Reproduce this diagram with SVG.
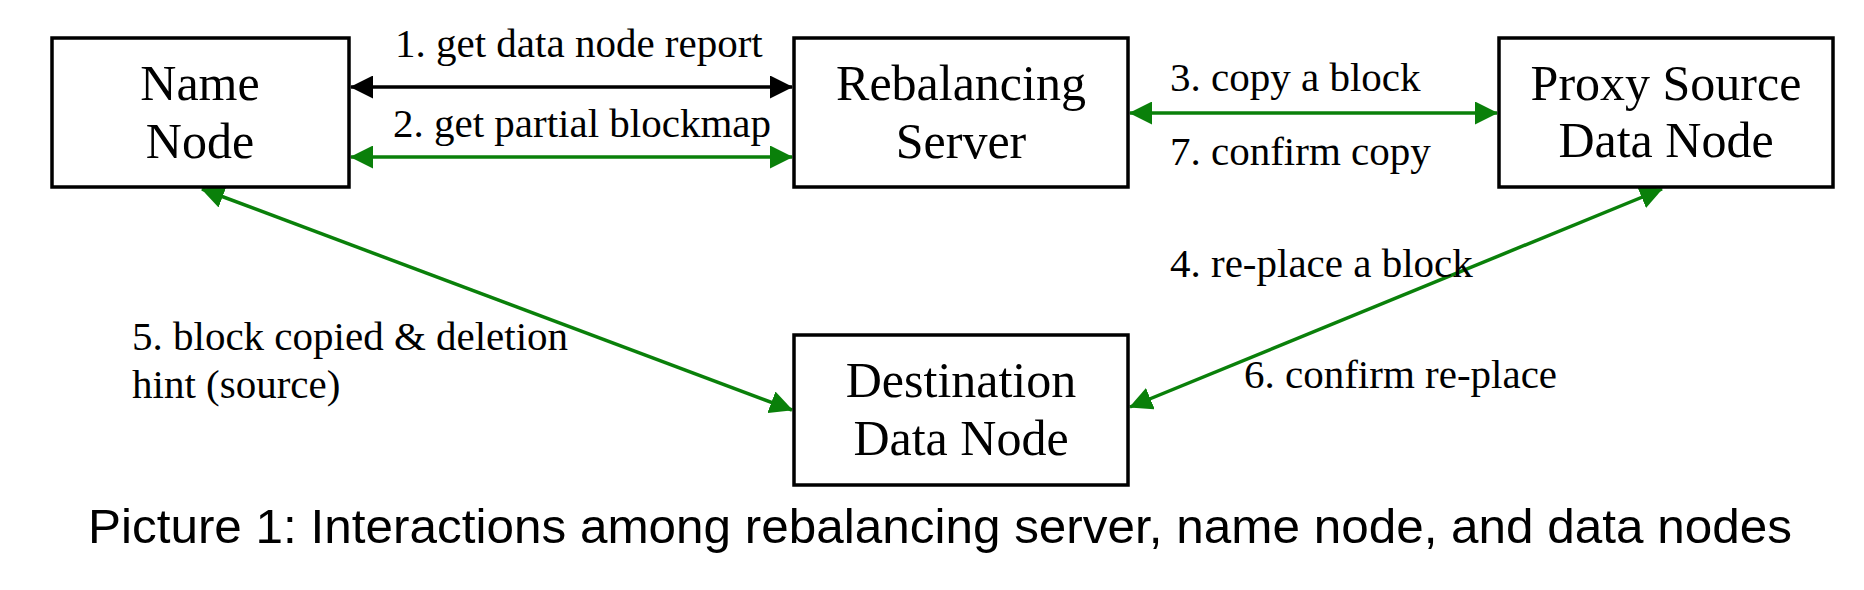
<svg xmlns="http://www.w3.org/2000/svg" width="1864" height="590" viewBox="0 0 1864 590">
<style>
.box{fill:#fff;stroke:#000;stroke-width:3.5}
.nt{font-family:"Liberation Serif","Times New Roman",serif;font-size:50px;fill:#000;text-anchor:middle}
.et{font-family:"Liberation Serif","Times New Roman",serif;font-size:41px;fill:#000}
.cap{font-family:"Liberation Sans",Arial,sans-serif;font-size:49px;fill:#000}
.blk{stroke:#000;stroke-width:3.5;fill:none}
.grn{stroke:#0a800a;stroke-width:3.5;fill:none}
</style>
<defs>
<marker id="ab" viewBox="0 0 23 23" refX="22" refY="11.5" markerWidth="23" markerHeight="23" markerUnits="userSpaceOnUse" orient="auto-start-reverse"><path d="M0,0 L23,11.5 L0,23 z" fill="#000"/></marker>
<marker id="ag" viewBox="0 0 23 23" refX="22" refY="11.5" markerWidth="23" markerHeight="23" markerUnits="userSpaceOnUse" orient="auto-start-reverse"><path d="M0,0 L23,11.5 L0,23 z" fill="#0a800a"/></marker>
</defs>
<rect width="1864" height="590" fill="#fff"/>
<g id="connectors">
<line class="blk" x1="351" y1="87" x2="792" y2="87" marker-start="url(#ab)" marker-end="url(#ab)"/>
<line class="grn" x1="351" y1="157" x2="792" y2="157" marker-start="url(#ag)" marker-end="url(#ag)"/>
<line class="grn" x1="1130" y1="113" x2="1497" y2="113" marker-start="url(#ag)" marker-end="url(#ag)"/>
<line class="grn" x1="1130" y1="407" x2="1662" y2="189" marker-start="url(#ag)" marker-end="url(#ag)"/>
<line class="grn" x1="202" y1="189" x2="792" y2="410" marker-start="url(#ag)" marker-end="url(#ag)"/>
<text class="et" x="395" y="57">1. get data node report</text>
<text class="et" x="393" y="137">2. get partial blockmap</text>
<text class="et" x="1170" y="91">3. copy a block</text>
<text class="et" x="1170" y="165">7. confirm copy</text>
<text class="et" x="1170" y="277">4. re-place a block</text>
<text class="et" x="1244" y="388">6. confirm re-place</text>
<text class="et" x="132" y="350">5. block copied &amp; deletion</text>
<text class="et" x="132" y="398">hint (source)</text>
</g>
<g id="name-node">
<rect class="box" x="52" y="38" width="297" height="149"/>
<text class="nt" x="200" y="100">Name</text>
<text class="nt" x="200" y="158">Node</text>
</g>
<g id="rebalancing-server">
<rect class="box" x="794" y="38" width="334" height="149"/>
<text class="nt" x="961" y="100">Rebalancing</text>
<text class="nt" x="961" y="158">Server</text>
</g>
<g id="proxy-source">
<rect class="box" x="1499" y="38" width="334" height="149"/>
<text class="nt" x="1666" y="100">Proxy Source</text>
<text class="nt" x="1666" y="157">Data Node</text>
</g>
<g id="destination">
<rect class="box" x="794" y="335" width="334" height="150"/>
<text class="nt" x="961" y="397">Destination</text>
<text class="nt" x="961" y="455">Data Node</text>
</g>
<text class="cap" x="88" y="543" textLength="1704" lengthAdjust="spacingAndGlyphs">Picture 1: Interactions among rebalancing server, name node, and data nodes</text>
</svg>
